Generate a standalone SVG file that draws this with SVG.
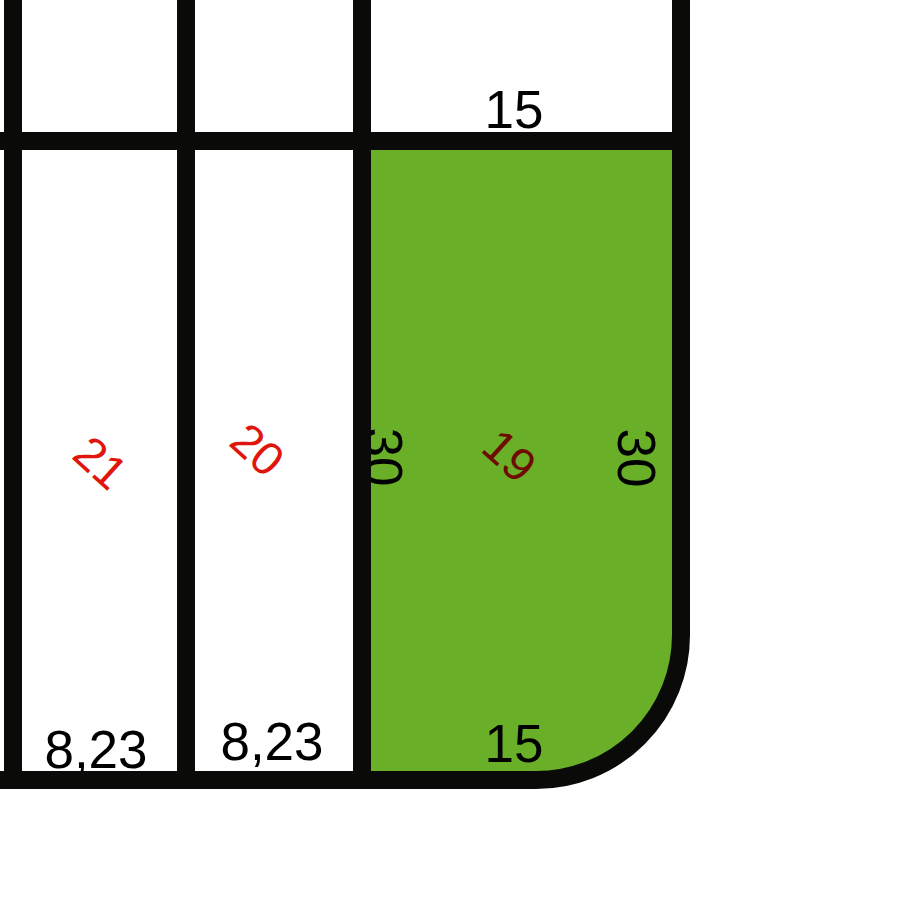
<svg xmlns="http://www.w3.org/2000/svg" width="900" height="900" viewBox="0 0 900 900">
<style>
.ln{fill:none;stroke:#0a0a08;stroke-width:18;stroke-linecap:butt}
.dim{font-family:"Liberation Sans",Arial,sans-serif;font-size:53px;fill:#000;text-anchor:middle}
.num{font-family:"Liberation Sans",Arial,sans-serif;font-size:47px;text-anchor:middle}
.red{fill:#e0160e}
.dred{fill:#6e0c02}
</style>
<rect x="0" y="0" width="900" height="900" fill="#fff"/>
<g id="plot-19">
<path d="M362,141 L681,141 L681,635 A145,145 0 0 1 536,780 L362,780 Z" fill="#69af27"/>
<text class="num dred" transform="translate(510,455) rotate(42)" y="17">19</text>
<text class="dim" transform="translate(365,457) rotate(90)">30</text>
<text class="dim" transform="translate(618,458) rotate(90)">30</text>
<text class="dim" x="514" y="128">15</text>
<text class="dim" x="514" y="762">15</text>
</g>
<g id="plot-20">
<text class="num red" transform="translate(258,449) rotate(42)" y="17">20</text>
<text class="dim" x="272" y="760">8,23</text>
</g>
<g id="plot-21">
<text class="num red" transform="translate(101,462) rotate(42)" y="17">21</text>
<text class="dim" x="96" y="768">8,23</text>
</g>
<g id="connectors">
<path class="ln" d="M0,141 L681,141"/>
<path class="ln" d="M13,0 L13,789"/>
<path class="ln" d="M186,0 L186,789"/>
<path class="ln" d="M362,0 L362,789"/>
<path class="ln" d="M681,0 L681,635 A145,145 0 0 1 536,780 L0,780"/>
</g>
</svg>
